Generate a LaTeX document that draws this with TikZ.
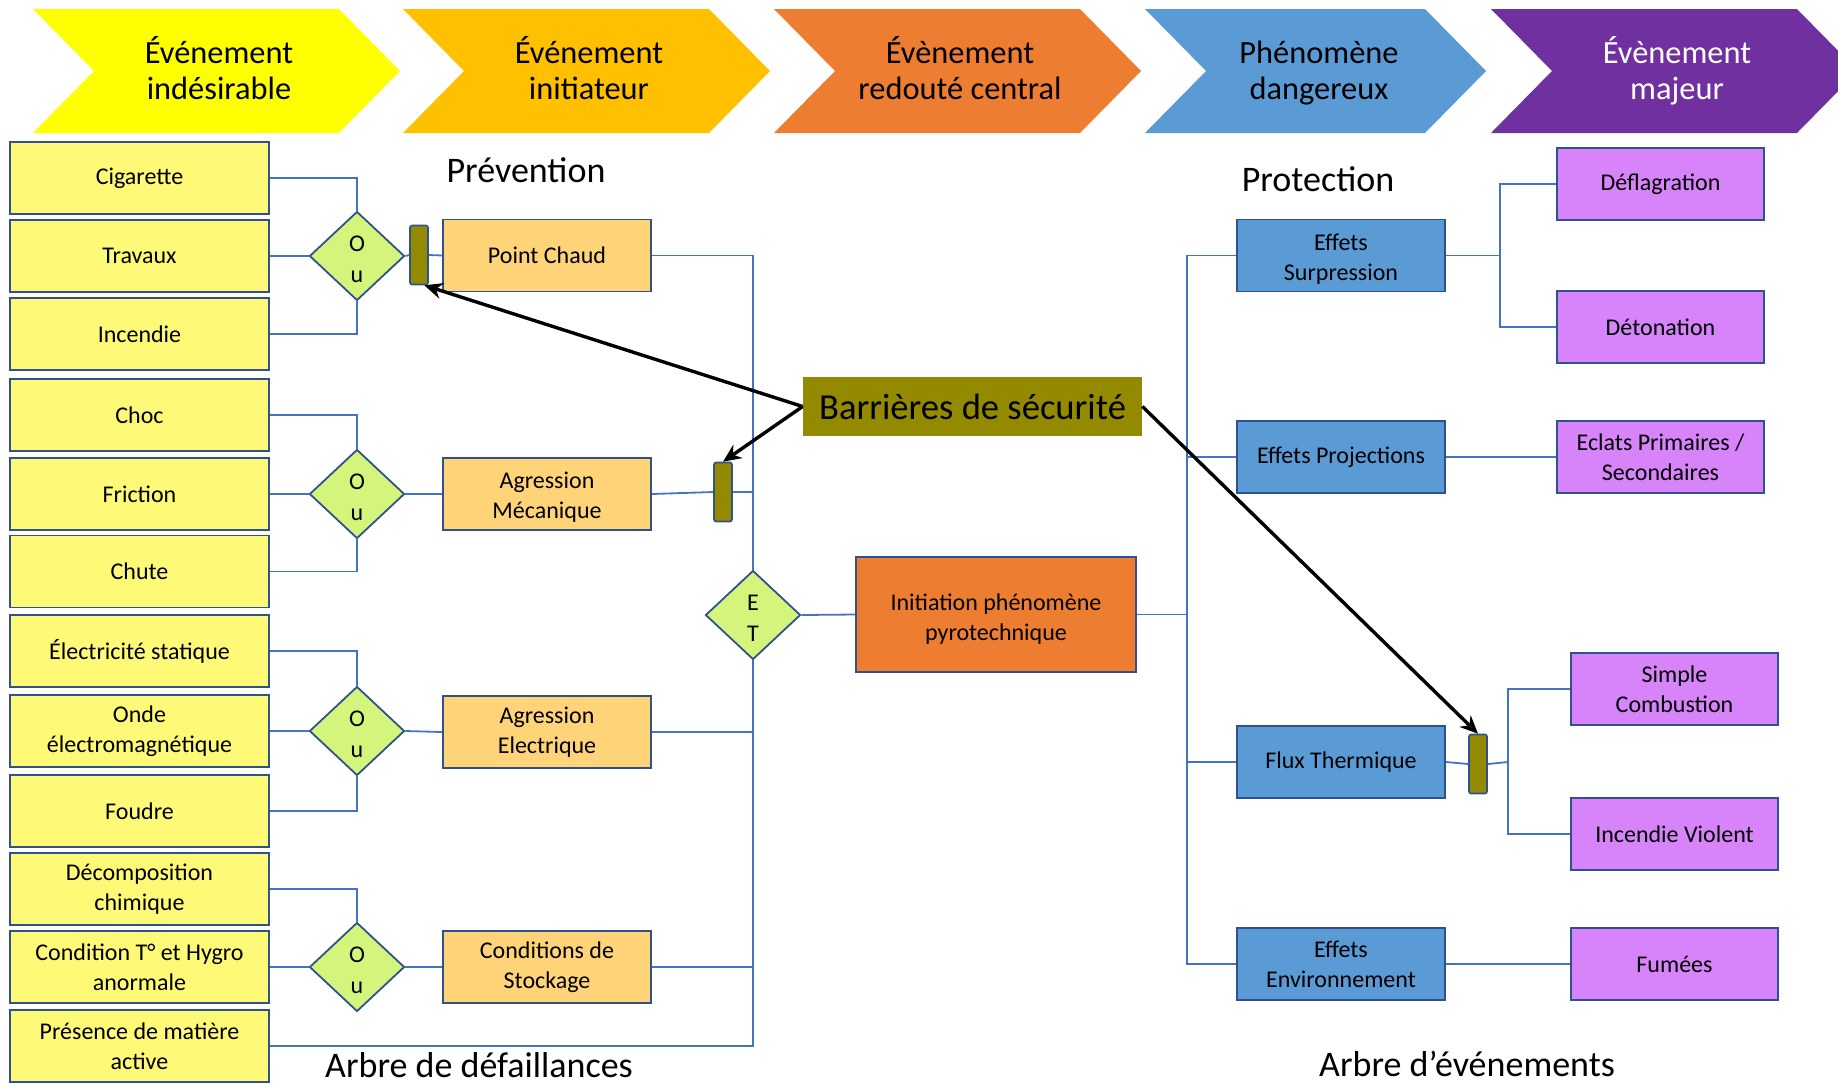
\documentclass[tikz,border=0pt]{standalone}
\usepackage{fontspec}
\setmainfont{Carlito}
\usetikzlibrary{shapes.geometric,arrows.meta}
\definecolor{cA}{HTML}{FFFF00}
\definecolor{cB}{HTML}{FFC000}
\definecolor{cC}{HTML}{ED7D31}
\definecolor{cD}{HTML}{5B9BD5}
\definecolor{cE}{HTML}{7030A0}
\definecolor{ybfill}{HTML}{FFF978}
\definecolor{obfill}{HTML}{FFD478}
\definecolor{bbfill}{HTML}{5B9BD5}
\definecolor{pbfill}{HTML}{D783F9}
\definecolor{gfill}{HTML}{D3F57B}
\definecolor{olv}{HTML}{948A00}
\definecolor{bord}{HTML}{2F528F}
\definecolor{lnk}{HTML}{4472C4}
\newcommand\mychev[3]{\fill[#3] (#1,9) -- (#2,9) -- (#2+61,71) -- (#2,133) -- (#1,133) -- (#1+61,71) -- cycle;}
\newcommand\toplift[1]{\rule{0pt}{#1}}
\begin{document}
\begin{tikzpicture}[x=0.5pt,y=-0.5pt,
  box/.style={draw=bord, line width=0.9pt, minimum height=36pt, inner sep=1pt, align=center, font=\fontsize{12}{15}\selectfont},
  ybox/.style={box, fill=ybfill, minimum width=129.5pt},
  obox/.style={box, fill=obfill, minimum width=104pt},
  bbox/.style={box, fill=bbfill, minimum width=104pt},
  pbox/.style={box, fill=pbfill, minimum width=103.5pt},
  gate/.style={diamond, draw=bord, line width=0.9pt, fill=gfill, minimum width=47.5pt, minimum height=44.5pt, inner sep=0pt, align=center, font=\fontsize{12}{15.5}\selectfont},
  barr/.style={draw=bord, line width=0.8pt, fill=olv, minimum width=9pt, minimum height=29.5pt, inner sep=0pt, rounded corners=1pt},
  link/.style={draw=lnk, line width=0.9pt},
  arr/.style={-{Stealth[length=9pt,width=8pt]}, line width=1.7pt, draw=black},
  chtxt/.style={align=center, font=\fontsize{16.2}{18}\selectfont, inner sep=0pt},
  ttl/.style={anchor=base, font=\fontsize{18}{20}\selectfont, inner sep=0pt}
]
\useasboundingbox (0,0) rectangle (1838,1084);
% chevrons
\mychev{33}{339}{cA}
\mychev{403}{709}{cB}
\mychev{774}{1080}{cC}
\mychev{1145}{1425}{cD}
\mychev{1491}{1797}{cE}
\node[chtxt] (t1) at (219,70.5) {\vphantom{É}Événement\\indésirable\vphantom{g}};
\node[chtxt] (t2) at (589,70.5) {\vphantom{É}Événement\\initiateur\vphantom{g}};
\node[chtxt] (t3) at (960,70.5) {\vphantom{É}Évènement\\redouté central\vphantom{g}};
\node[chtxt] (t4) at (1319,70.5) {\vphantom{É}Phénomène\\dangereux\vphantom{g}};
\node[chtxt,text=white] (t5) at (1677,70.5) {\vphantom{É}Évènement\\majeur\vphantom{g}};
% titles
\node[ttl] (prev) at (526,182) {Prévention};
\node[ttl] (prot) at (1318,191) {Protection};
\node[ttl] (adf) at (479,1077) {Arbre de défaillances};
\node[ttl] (ade) at (1467,1076) {Arbre d’événements};
% yellow boxes
\node[ybox] (y1) at (139.5,178) {Cigarette};
\node[ybox] (y2) at (139.5,256) {Travaux};
\node[ybox] (y3) at (139.5,334) {Incendie};
\node[ybox] (y4) at (139.5,415) {Choc};
\node[ybox] (y5) at (139.5,494) {Friction};
\node[ybox] (y6) at (139.5,571.5) {Chute};
\node[ybox] (y7) at (139.5,651) {Électricité statique};
\node[ybox] (y8) at (139.5,731) {Onde\\électromagnétique};
\node[ybox] (y9) at (139.5,811) {Foudre};
\node[ybox] (y10) at (139.5,889) {Décomposition\\chimique};
\node[ybox] (y11) at (139.5,967) {Condition T° et Hygro\\anormale};
\node[ybox] (y12) at (139.5,1046) {Présence de matière\\active};
% gates
\node[gate] (g1) at (357,256) {\toplift{11.2pt}O\\u};
\node[gate] (g2) at (357,494) {\toplift{11.2pt}O\\u};
\node[gate] (g3) at (357,731) {\toplift{11.2pt}O\\u};
\node[gate] (g4) at (357,967) {\toplift{11.2pt}O\\u};
\node[gate] (et) at (753,615) {\toplift{11.2pt}E\\T};
% orange boxes
\node[obox] (o1) at (547,255.5) {Point Chaud};
\node[obox] (o2) at (547,494) {\toplift{11pt}Agression\\Mécanique};
\node[obox] (o3) at (547,732) {Agression\\Electrique};
\node[obox] (o4) at (547,967) {Conditions de\\Stockage};
% barriers
\node[barr] (b1) at (419,255) {};
\node[barr] (b2) at (723,492) {};
\node[barr] (b3) at (1478,764) {};
% central
\node[box, fill=cC, minimum width=140pt, minimum height=57.5pt] (init) at (996,614.5) {\toplift{12.5pt}Initiation phénomène\\pyrotechnique};
\node[fill=olv, minimum width=169.5pt, minimum height=29.5pt, inner sep=0pt, font=\fontsize{18.3}{20}\selectfont] (bar) at (972.5,406.5) {Barrières de sécurité};
% blue boxes
\node[bbox] (e1) at (1341,255.5) {\toplift{11.5pt}Effets\\Surpression};
\node[bbox] (e2) at (1341,457) {Effets Projections};
\node[bbox] (e3) at (1341,762) {Flux Thermique};
\node[bbox] (e4) at (1341,964) {Effets\\Environnement};
% purple boxes
\node[pbox] (p1) at (1660.5,184) {Déflagration};
\node[pbox] (p2) at (1660.5,327) {Détonation};
\node[pbox] (p3) at (1660.5,457) {Eclats Primaires /\\Secondaires};
\node[pbox] (p4) at (1674.5,689) {Simple\\Combustion};
\node[pbox] (p5) at (1674.5,834) {Incendie Violent};
\node[pbox] (p6) at (1674.5,964) {Fumées};
% junction coordinates
\coordinate (j1) at (1500,255.5);
\coordinate (j2) at (1508,762);
\coordinate (vt) at (1187,255.5);
\coordinate (vb) at (1187,964);
% fault tree links
\begin{scope}[link]
\draw (y1.east) -| (g1.north);
\draw (y2.east) -- (g1.west);
\draw (y3.east) -| (g1.south);
\draw (y4.east) -| (g2.north);
\draw (y5.east) -- (g2.west);
\draw (y6.east) -| (g2.south);
\draw (y7.east) -| (g3.north);
\draw (y8.east) -- (g3.west);
\draw (y9.east) -| (g3.south);
\draw (y10.east) -| (g4.north);
\draw (y11.east) -- (g4.west);
\draw (g1.east) -- (b1.west);
\draw (b1.east) -- (o1.west);
\draw (g2.east) -- (o2.west);
\draw (g3.east) -- (o3.west);
\draw (g4.east) -- (o4.west);
\draw (o1.east) -| (et.north);
\draw (o2.east) -- (b2.west);
\draw (b2.east) -- (b2.east -| et.north);
\draw (o3.east) -- (o3.east -| et.north);
\draw (o4.east) -- (o4.east -| et.north);
\draw (y12.east) -| (et.south);
\draw (et.east) -- (init.west);
% event tree links
\draw (init.east) -- (init.east -| vt);
\draw (e1.west) -- (vt) -- (vb) -- (e4.west);
\draw (e2.west) -- (e2.west -| vt);
\draw (e3.west) -- (e3.west -| vt);
\draw (e1.east) -- (j1);
\draw (p1.west) -| (j1) |- (p2.west);
\draw (e2.east) -- (p3.west);
\draw (e3.east) -- (b3.west);
\draw (b3.east) -- (j2);
\draw (p4.west) -| (j2) |- (p5.west);
\draw (e4.east) -- (p6.west);
\end{scope}
% barrier arrows
\draw[arr] (bar.west) -- (b1.-80);
\draw[arr] (bar.west) -- (b2.north);
\draw[arr] (bar.east) -- (b3.north);
\end{tikzpicture}
\end{document}
